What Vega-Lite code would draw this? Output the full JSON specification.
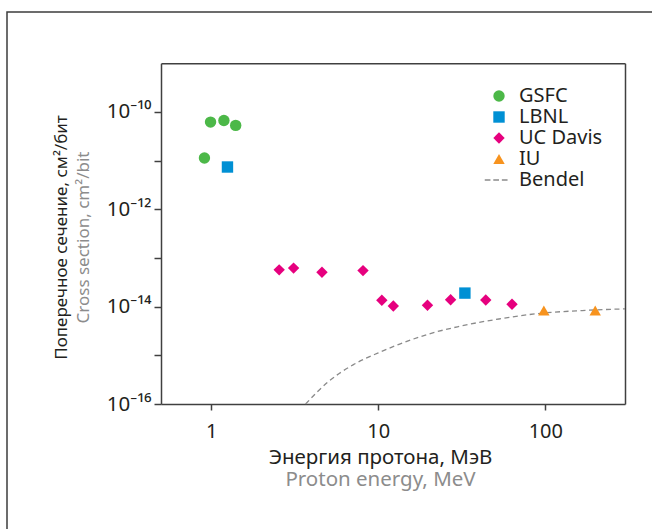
{
  "$schema": "https://vega.github.io/schema/vega-lite/v6.json",
  "width": 655,
  "height": 527,
  "autosize": {"type": "none"},
  "padding": {"left": 7, "top": 12, "right": -10, "bottom": -10},
  "background": "white",
  "config": {
    "view": {"stroke": "#3d3d3d", "strokeWidth": 1.5},
    "font": "Noto Sans",
    "axis": {"grid": false, "labelFont": "Noto Sans", "titleFont": "Noto Sans", "domainColor": "#404040", "domainWidth": 1.5, "tickColor": "#404040", "tickWidth": 1.5, "labelColor": "#231f20", "labelFontSize": 20, "titleFontSize": 20, "titleFontWeight": "normal"}
  },
  "datasets": {
    "points": [
      {"series": "GSFC", "energy": 0.99, "sigma": 6.2e-11},
      {"series": "GSFC", "energy": 1.19, "sigma": 6.7e-11},
      {"series": "GSFC", "energy": 1.40, "sigma": 5.3e-11},
      {"series": "GSFC", "energy": 0.91, "sigma": 1.13e-11},
      {"series": "LBNL", "energy": 1.25, "sigma": 7.4e-12},
      {"series": "LBNL", "energy": 33, "sigma": 1.9e-14},
      {"series": "UC Davis", "energy": 2.55, "sigma": 5.7e-14},
      {"series": "UC Davis", "energy": 3.11, "sigma": 6.2e-14},
      {"series": "UC Davis", "energy": 4.6, "sigma": 5.1e-14},
      {"series": "UC Davis", "energy": 8.1, "sigma": 5.5e-14},
      {"series": "UC Davis", "energy": 10.5, "sigma": 1.35e-14},
      {"series": "UC Davis", "energy": 12.3, "sigma": 1.03e-14},
      {"series": "UC Davis", "energy": 19.7, "sigma": 1.07e-14},
      {"series": "UC Davis", "energy": 27.1, "sigma": 1.39e-14},
      {"series": "UC Davis", "energy": 44, "sigma": 1.37e-14},
      {"series": "UC Davis", "energy": 63.2, "sigma": 1.12e-14},
      {"series": "IU", "energy": 98, "sigma": 8.35e-15},
      {"series": "IU", "energy": 199, "sigma": 8.35e-15}
    ],
    "bendel": [
      {"energy": 3.67, "sigma": 1.0e-16},
      {"energy": 5.03, "sigma": 2.89e-16},
      {"energy": 7.1, "sigma": 6.44e-16},
      {"energy": 10.0, "sigma": 1.125e-15},
      {"energy": 13.3, "sigma": 1.68e-15},
      {"energy": 19.9, "sigma": 2.72e-15},
      {"energy": 29.8, "sigma": 3.86e-15},
      {"energy": 52.8, "sigma": 5.58e-15},
      {"energy": 93.6, "sigma": 7.31e-15},
      {"energy": 166, "sigma": 8.32e-15},
      {"energy": 300, "sigma": 9.0e-15}
    ]
  },
  "resolve": {"axis": {"x": "independent", "y": "independent"}},
  "layer": [
    {
      "data": {"name": "bendel"},
      "mark": {"type": "line", "color": "#8a8a8a", "strokeWidth": 1.3, "strokeDash": [5, 3.5], "interpolate": "monotone"},
      "encoding": {
        "x": {"field": "energy", "type": "quantitative", "scale": {"type": "log", "domain": [0.5, 300], "nice": false, "range": [154, 618]},
              "axis": {"orient": "bottom", "offset": -135, "labels": false, "ticks": false, "domain": false, "title": "Proton energy, MeV", "titleColor": "#8c8c8c", "titleFontSize": 20.5, "titleX": 373, "titleY": 81, "titleBaseline": "alphabetic", "titleAlign": "center"}},
        "y": {"field": "sigma", "type": "quantitative", "scale": {"type": "log", "domain": [1e-16, 1e-9], "nice": false, "range": [392, 51.3]},
              "axis": {"orient": "left", "offset": -154, "labels": false, "ticks": false, "domain": false, "title": "Cross section, cm²/bit", "titleColor": "#8c8c8c", "titleFontSize": 17, "titleAngle": 270, "titleX": -73, "titleY": 225, "titleBaseline": "alphabetic", "titleAlign": "center"}}
      }
    },
    {
      "data": {"name": "bendel"},
      "mark": {"type": "point", "opacity": 0},
      "encoding": {
        "x": {"field": "energy", "type": "quantitative", "axis": {"orient": "top", "offset": -51.3, "labels": false, "ticks": false, "title": null}},
        "y": {"field": "sigma", "type": "quantitative", "axis": {"orient": "right", "offset": -37, "labels": false, "ticks": false, "title": null}}
      }
    },
    {
      "data": {"name": "points"},
      "mark": {"type": "point", "filled": true, "opacity": 1, "size": 130},
      "encoding": {
        "x": {"field": "energy", "type": "quantitative",
              "axis": {"orient": "bottom", "offset": -135, "values": [1, 10, 100], "format": "d", "tickSize": 6, "labelPadding": 11, "labelFontSize": 20, "title": "Энергия протона, МэВ", "titleColor": "#231f20", "titleFontSize": 20.5, "titleX": 373, "titleY": 59, "titleBaseline": "alphabetic", "titleAlign": "center"}},
        "y": {"field": "sigma", "type": "quantitative",
              "axis": {"orient": "left", "offset": -154, "values": [1e-16, 1e-15, 1e-14, 1e-13, 1e-12, 1e-11, 1e-10], "tickSize": 7, "labelPadding": 3, "labelFontSize": 20.5,
                       "labelExpr": "datum.value == 1e-10 ? '10⁻¹⁰' : datum.value == 1e-12 ? '10⁻¹²' : datum.value == 1e-14 ? '10⁻¹⁴' : datum.value == 1e-16 ? '10⁻¹⁶' : ''",
                       "title": "Поперечное сечение, см²/бит", "titleColor": "#231f20", "titleFontSize": 17, "titleAngle": 270, "titleX": -95, "titleY": 225, "titleBaseline": "alphabetic", "titleAlign": "center"}},
        "color": {"field": "series", "type": "nominal",
                  "scale": {"domain": ["GSFC", "LBNL", "UC Davis", "IU", "Bendel"], "range": ["#4cb848", "#0090d4", "#e6007e", "#f7931e", "#8a8a8a"]},
                  "legend": {"title": null, "orient": "none", "legendX": 482, "legendY": 74, "labelFontSize": 20, "labelFont": "Noto Sans", "labelColor": "#231f20", "symbolSize": 130, "labelOffset": 10, "rowPadding": 1, "padding": 0, "symbolOpacity": 1}},
        "shape": {"field": "series", "type": "nominal",
                  "scale": {"domain": ["GSFC", "LBNL", "UC Davis", "IU", "Bendel"], "range": ["circle", "square", "diamond", "triangle-up", "M-2.5,-0.12h1v0.24h-1z M-1,-0.12h1v0.24h-1z M0.5,-0.12h1v0.24h-1z"]}}
      }
    }
  ]
}
